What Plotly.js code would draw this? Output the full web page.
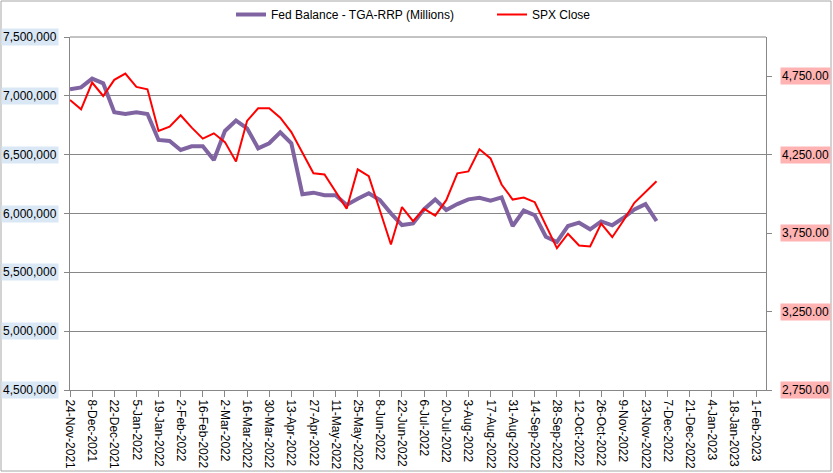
<!DOCTYPE html>
<html>
<head>
<meta charset="utf-8">
<script src="https://cdn.plot.ly/plotly-3.0.1.min.js"></script>
<style>
html,body{margin:0;padding:0;background:#fff;}
#chart{width:833px;height:473px;}
</style>
</head>
<body>
<div id="chart"></div>
<script>
var dates = ["2021-11-24","2021-12-01","2021-12-08","2021-12-15","2021-12-22","2021-12-29",
"2022-01-05","2022-01-12","2022-01-19","2022-01-26","2022-02-02","2022-02-09","2022-02-16","2022-02-23",
"2022-03-02","2022-03-09","2022-03-16","2022-03-23","2022-03-30","2022-04-06","2022-04-13","2022-04-20",
"2022-04-27","2022-05-04","2022-05-11","2022-05-18","2022-05-25","2022-06-01","2022-06-08","2022-06-15",
"2022-06-22","2022-06-29","2022-07-06","2022-07-13","2022-07-20","2022-07-27","2022-08-03","2022-08-10",
"2022-08-17","2022-08-24","2022-08-31","2022-09-07","2022-09-14","2022-09-21","2022-09-28","2022-10-05",
"2022-10-12","2022-10-19","2022-10-26","2022-11-02","2022-11-09","2022-11-16","2022-11-23","2022-11-30"];

var fedBalance = [7056000,7072000,7146000,7106000,6860000,6845000,6860000,6845000,6625000,6616000,
6540000,6571000,6571000,6455000,6701000,6789000,6724000,6554000,6597000,6690000,6597000,6163000,
6177000,6155000,6155000,6073000,6126000,6172000,6115000,6001000,5902000,5916000,6037000,6120000,
6030000,6080000,6120000,6134000,6109000,6137000,5894000,6025000,5985000,5803000,5758000,5894000,
5922000,5866000,5933000,5900000,5962000,6035000,6080000,5936000];

var spxClose = [4599,4539,4710,4624,4727,4767,4682,4667,4401,4429,4501,4422,4352,4386,4330,4207,
4465,4546,4546,4486,4394,4267,4131,4124,4018,3905,4156,4113,3896,3677,3916,3826,3905,3862,3960,
4131,4143,4284,4226,4060,3964,3977,3947,3805,3654,3746,3671,3665,3811,3724,3829,3943,4011,4080];

var xTickVals = ["2021-11-24","2021-12-08","2021-12-22","2022-01-05","2022-01-19","2022-02-02",
"2022-02-16","2022-03-02","2022-03-16","2022-03-30","2022-04-13","2022-04-27","2022-05-11",
"2022-05-25","2022-06-08","2022-06-22","2022-07-06","2022-07-20","2022-08-03","2022-08-17",
"2022-08-31","2022-09-14","2022-09-28","2022-10-12","2022-10-26","2022-11-09","2022-11-23",
"2022-12-07","2022-12-21","2023-01-04","2023-01-18","2023-02-01"];
var xTickLabels = ["24-Nov-2021","8-Dec-2021","22-Dec-2021","5-Jan-2022","19-Jan-2022","2-Feb-2022",
"16-Feb-2022","2-Mar-2022","16-Mar-2022","30-Mar-2022","13-Apr-2022","27-Apr-2022","11-May-2022",
"25-May-2022","8-Jun-2022","22-Jun-2022","6-Jul-2022","20-Jul-2022","3-Aug-2022","17-Aug-2022",
"31-Aug-2022","14-Sep-2022","28-Sep-2022","12-Oct-2022","26-Oct-2022","9-Nov-2022","23-Nov-2022",
"7-Dec-2022","21-Dec-2022","4-Jan-2023","18-Jan-2023","1-Feb-2023"];

var leftTickVals = [4500000,5000000,5500000,6000000,6500000,7000000,7500000];
var leftTickLabels = ["4,500,000","5,000,000","5,500,000","6,000,000","6,500,000","7,000,000","7,500,000"];
var rightTickVals = [2750,3250,3750,4250,4750];
var rightTickLabels = ["2,750.00","3,250.00","3,750.00","4,250.00","4,750.00"];

var W = 833, H = 473;
var M = {l:70, r:67, t:37, b:83, autoexpand: false};
var pw = W - M.l - M.r, ph = H - M.t - M.b;
var FONT = "Liberation Sans, Arial, sans-serif";
var GRID = "#878787";

var traces = [
  {x: dates, y: fedBalance, name: "Fed Balance - TGA-RRP (Millions)", type: "scatter", mode: "lines",
   line: {color: "#8064A2", width: 4}, yaxis: "y"},
  {x: dates, y: spxClose, name: "SPX Close", type: "scatter", mode: "lines",
   line: {color: "#FF0000", width: 2}, yaxis: "y2"}
];

var annotations = [];
leftTickVals.forEach(function(v, i){
  annotations.push({xref: "paper", yref: "y", x: 0, y: v, xanchor: "right", yanchor: "middle",
    xshift: -11, text: leftTickLabels[i], showarrow: false, bgcolor: "#DAE8F6", borderpad: 1,
    font: {family: FONT, size: 12, color: "#000"}});
});
rightTickVals.forEach(function(v, i){
  annotations.push({xref: "paper", yref: "y2", x: 1, y: v, xanchor: "left", yanchor: "middle",
    xshift: 14, text: rightTickLabels[i], showarrow: false, bgcolor: "#FFB3B3", borderpad: 1,
    font: {family: FONT, size: 12, color: "#000"}});
});

var layout = {
  width: W, height: H,
  margin: M,
  paper_bgcolor: "#fff", plot_bgcolor: "#fff",
  font: {family: FONT, size: 12, color: "#000"},
  showlegend: true,
  legend: {orientation: "h", x: (231 - M.l)/pw, y: 1 + (M.t)/ph, xanchor: "left", yanchor: "top",
           font: {family: FONT, size: 12, color: "#000"}, entrywidth: 216, bgcolor: "rgba(0,0,0,0)",
           traceorder: "normal"},
  xaxis: {type: "date", range: ["2021-11-24", "2023-02-07 06:00"], tickmode: "array",
          tickvals: xTickVals, ticktext: xTickLabels, tickangle: 90, ticks: "outside", ticklen: 6,
          tickcolor: GRID, showline: true, linecolor: GRID, linewidth: 1, showgrid: false,
          zeroline: false, automargin: false, tickfont: {family: FONT, size: 12, color: "#000"}},
  yaxis: {range: [4500000, 7500000], tickmode: "array", tickvals: leftTickVals, ticktext: leftTickLabels,
          showticklabels: false, ticks: "outside", ticklen: 5, tickcolor: GRID, showline: true,
          linecolor: GRID, linewidth: 1, showgrid: true, gridcolor: GRID, gridwidth: 1,
          zeroline: false, automargin: false},
  yaxis2: {range: [2750, 5000], overlaying: "y", side: "right", tickmode: "array",
           tickvals: rightTickVals, ticktext: rightTickLabels, showticklabels: false, ticks: "outside",
           ticklen: 5, tickcolor: GRID, showline: true, linecolor: GRID, linewidth: 1,
           showgrid: false, zeroline: false, automargin: false},
  annotations: annotations,
  shapes: [
    {type: "line", xref: "paper", yref: "paper", x0: 0, x1: 1, y0: 1, y1: 1,
     line: {color: GRID, width: 1}},
    {type: "rect", xref: "paper", yref: "paper",
     x0: (1 - M.l)/pw, x1: (W - 2 - M.l)/pw, y0: -(H - 2 - M.t - ph)/ph, y1: 1 + (M.t - 1)/ph,
     line: {color: "#A6A6A6", width: 1}, fillcolor: "rgba(0,0,0,0)"}
  ]
};

Plotly.newPlot("chart", traces, layout, {displayModeBar: false, staticPlot: true});
</script>
</body>
</html>
